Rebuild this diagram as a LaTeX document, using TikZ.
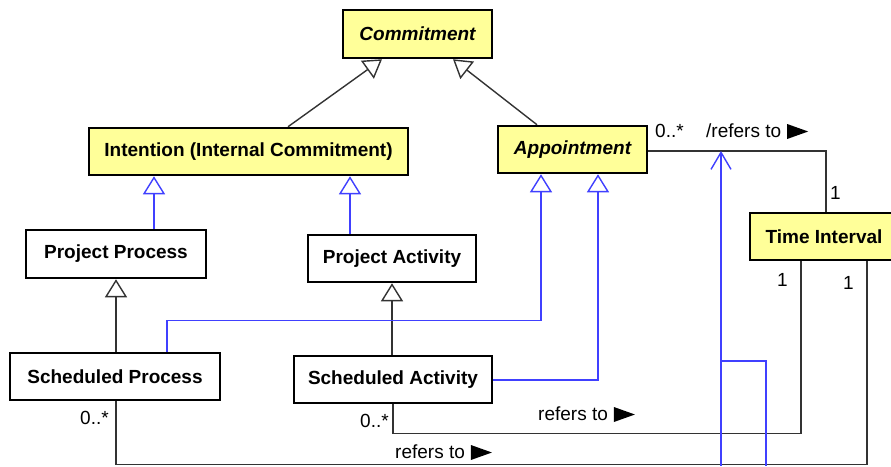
\documentclass[tikz,border=0pt]{standalone}
\usepackage{fontspec}
\setmainfont{Liberation Sans}
\usetikzlibrary{arrows.meta,calc}
\pgfdeclarelayer{background}
\pgfsetlayers{background,main}

\definecolor{classfill}{RGB}{255,255,153}
\definecolor{linkblue}{RGB}{64,64,255}
\definecolor{linkgray}{RGB}{51,51,51}

% filled direction marker for association names
\newcommand\dirmark{\tikz[x=1pt,y=1pt,baseline=0pt]\fill[black] (0,-2)--(0,13)--(21,5.5)--cycle;}

\tikzset{
  umlclass/.style={draw=black, line width=2.5pt, fill=white, inner sep=0pt,
    font=\fontsize{19}{22}\selectfont\bfseries},
  abstract/.style={umlclass, fill=classfill, font=\fontsize{19}{22}\selectfont\bfseries\itshape},
  concrete/.style={umlclass, fill=classfill},
  gen/.style={draw=linkgray, line width=1.4pt,
    -{Triangle[length=18pt,width=22pt,fill=white]}},
  genblue/.style={gen, draw=linkblue},
  assoc/.style={draw=linkgray, line width=1.4pt},
  dep/.style={draw=linkblue, line width=1.4pt},
  lbl/.style={anchor=base west, inner sep=0pt, font=\fontsize{19}{22}\selectfont}
}

\begin{document}
\begin{tikzpicture}[x=1pt,y=-1pt]
\useasboundingbox (0,0) rectangle (891,466);
\clip (0,0) rectangle (891,466);

% classes
\node[abstract, minimum width=149pt, minimum height=48pt] (commit) at (417.5,34) {Commitment};
\node[concrete, minimum width=319pt, minimum height=47pt] (intent) at (248.5,151.5) {Intention (Internal Commitment)};
\node[abstract, minimum width=149pt, minimum height=47pt] (appoint) at (572.5,149.5) {Appointment};
\node[concrete, minimum width=148pt, minimum height=47pt] (timeint) at (824,236.5) {Time Interval};
\node[umlclass, minimum width=180pt, minimum height=48pt] (pproc) at (116,254) {Project Process};
\node[umlclass, minimum width=168pt, minimum height=47pt] (pact) at (392,258.5) {Project Activity};
\node[umlclass, minimum width=210pt, minimum height=47pt] (sproc) at (115,376.5) {Scheduled Process};
\node[umlclass, minimum width=198pt, minimum height=47pt] (sact) at (393,379.5) {Scheduled Activity};

% free ends of the dependency running off the lower edge
\coordinate (depa) at (721,466);
\coordinate (depb) at (766,466);
\coordinate (depjoin) at (721,361);
\coordinate (deptip) at (721,151);

\begin{pgfonlayer}{background}
  % generalizations
  \draw[gen] ($(intent.north)+(39.5,0)$) -- ($(commit.south)+(-35.5,0)$);
  \draw[gen] ($(appoint.north)+(-35.5,0)$) -- ($(commit.south)+(35.5,0)$);
  \draw[genblue] ($(pproc.north)+(38,0)$) -- ($(intent.south)+(-94.5,0)$);
  \draw[genblue] ($(pact.north)+(-42,0)$) -- ($(intent.south)+(101.5,0)$);
  \draw[gen] (sproc.north) ++(1,0) -- (pproc.south);
  \draw[gen] (sact.north) ++(-1,0) -- (pact.south);
  \draw[genblue] ($(sproc.north)+(52,0)$) -- ++(0,-31) -| ($(appoint.south)+(-31.5,0)$);
  \draw[genblue] ($(sact.east)+(0,0.5)$) -| ($(appoint.south)+(25.5,0)$);

  % associations to Time Interval
  \draw[assoc] ($(appoint.east)+(0,1.5)$) -| ($(timeint.north)+(2,0)$);
  \draw[assoc] (sact.south) -- ++(0,29) -| ($(timeint.south)+(-23,0)$);
  \draw[assoc] ($(sproc.south)+(1,0)$) -- ++(0,63) -| ($(timeint.south)+(43,0)$);

  % dependency
  \draw[dep, -{Straight Barb[length=17pt,width=20pt]}] (depa) -- (deptip);
  \draw[dep] (depjoin) -- (depjoin -| depb) -- (depb);
\end{pgfonlayer}

% association labels
\node[lbl] (m1) at (655,137) {0..*};
\node[lbl] (n1) at (706,137) {/refers to\hspace{6pt}\dirmark};
\node[lbl] (m2) at (830,199) {1};
\node[lbl] (m3) at (777,286) {1};
\node[lbl] (m4) at (843,289) {1};
\node[lbl] (m5) at (360,427) {0..*};
\node[lbl] (m6) at (80,424) {0..*};
\node[lbl] (n2) at (538,420) {refers to\hspace{6pt}\dirmark};
\node[lbl] (n3) at (395,458) {refers to\hspace{6pt}\dirmark};
\end{tikzpicture}
\end{document}
